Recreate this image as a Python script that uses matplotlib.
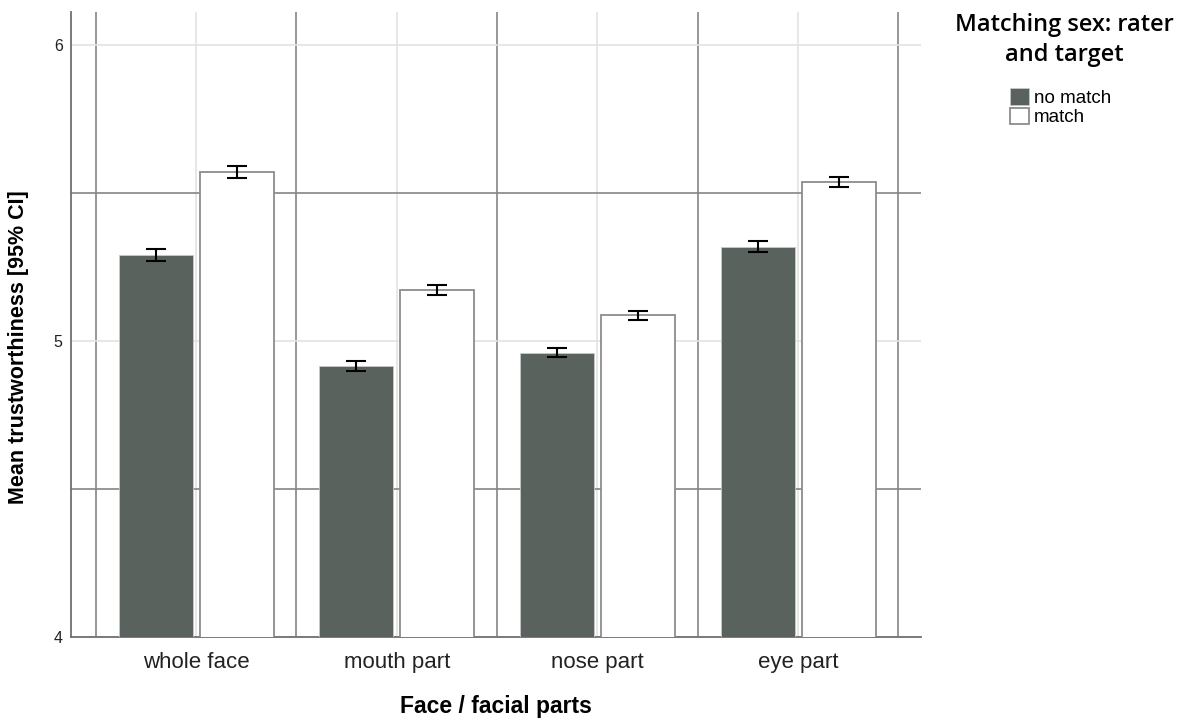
import matplotlib
matplotlib.use("Agg")
import numpy as np
import matplotlib.pyplot as plt
from matplotlib.patches import Patch

# data
categories = ["whole face", "mouth part", "nose part", "eye part"]
no_match = [5.290, 4.915, 4.960, 5.318]
match = [5.570, 5.170, 5.086, 5.536]
no_match_ci = [0.020, 0.017, 0.016, 0.018]
match_ci = [0.019, 0.017, 0.016, 0.018]
series_names = ["no match", "match"]

DARK = "#5a625d"
GRID_LIGHT = "#e3e3e3"
GRID_DARK = "#858585"

fig = plt.figure(figsize=(11.84, 7.21), dpi=100)
ax = fig.add_axes([0.060, 0.117, 0.718, 0.866])

x = np.arange(len(categories))
w = 0.369
off = 0.202

ax.bar(x - off, no_match, w, color=DARK, edgecolor="#c8c8c8",
       linewidth=0.6, zorder=3)
ax.bar(x + off, match, w, color="white", edgecolor="#8c8c8c",
       linewidth=1.3, zorder=3)
ax.errorbar(x - off, no_match, yerr=no_match_ci, fmt="none", ecolor="black",
            elinewidth=1.5, capsize=7.5, capthick=1.5, zorder=4)
ax.errorbar(x + off, match, yerr=match_ci, fmt="none", ecolor="black",
            elinewidth=1.5, capsize=7.5, capthick=1.5, zorder=4)

ax.set_ylim(4, 6.11)
ax.set_xlim(-0.623, 3.613)
ax.set_yticks([4, 5, 6])
ax.set_yticklabels(["4", "5", "6"])
ax.set_yticks([4.5, 5.5], minor=True)
ax.set_xticks(x)
ax.set_xticklabels(categories)
ax.set_xticks(np.arange(-0.5, 4.0, 1.0), minor=True)

ax.grid(which="major", color=GRID_LIGHT, linewidth=1.2, zorder=0)
ax.grid(which="minor", color=GRID_DARK, linewidth=1.2, zorder=1)
ax.set_axisbelow(True)
ax.tick_params(which="both", length=0)
ax.tick_params(axis="x", pad=11, labelsize=16, labelcolor="#222222")
ax.tick_params(axis="y", pad=6, labelsize=11.5, labelcolor="#222222")
for lab in ax.get_xticklabels() + ax.get_yticklabels():
    lab.set_family("Liberation Sans")

for s in ["top", "right"]:
    ax.spines[s].set_visible(False)
for s in ["left", "bottom"]:
    ax.spines[s].set_color("#707070")
    ax.spines[s].set_linewidth(1.3)

ax.set_xlabel("Face / facial parts", fontsize=16.5, fontweight="bold",
              family="Liberation Sans", labelpad=16)
ax.set_ylabel("Mean trustworthiness [95% CI]", fontsize=15.5,
              fontweight="bold", family="Liberation Sans")
ax.yaxis.set_label_coords(-0.0495, 0.464)

# legend
fig.text(0.8986, 0.957, "Matching sex: rater", ha="center", va="baseline",
         fontsize=17, family="Open Sans", fontweight="semibold")
fig.text(0.8986, 0.915, "and target", ha="center", va="baseline",
         fontsize=17, family="Open Sans", fontweight="semibold")
handles = [Patch(facecolor=DARK, edgecolor="#c8c8c8", linewidth=0.6),
           Patch(facecolor="white", edgecolor="#8c8c8c", linewidth=1.3)]
fig.legend(handles, series_names, loc="upper left",
           bbox_to_anchor=(0.853, 0.878), frameon=False,
           prop={"family": "Liberation Sans", "size": 13.5},
           handlelength=1.0, handleheight=1.0, handletextpad=0.27,
           labelspacing=0.04, borderpad=0, borderaxespad=0)

fig.savefig("out.png", dpi=100, facecolor="white")
